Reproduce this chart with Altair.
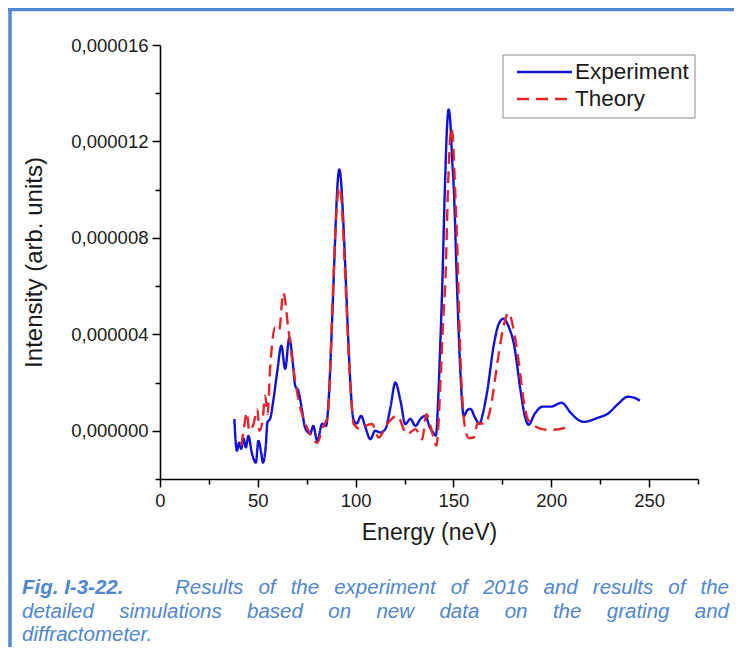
import altair as alt
import pandas as pd

# ---------------- data ----------------
exp_energy = [38.0, 39.3, 40.5, 41.5, 42.7, 43.9, 45.2, 46.9, 49.0, 50.3, 51.7, 52.6, 54.1, 54.9,
              56.3, 58.0, 60.0, 62.0, 64.0, 66.1, 67.8, 69.1, 70.7, 72.5, 74.2, 76.8, 78.3, 80.4,
              82.9, 84.9, 86.0, 87.0, 88.0, 89.0, 90.0, 91.0, 91.7, 92.5, 93.5, 94.5, 95.5, 96.5,
              97.5, 98.8, 100.5, 102.8, 105.0, 107.5, 110.0, 112.6, 115.2, 117.8, 120.3, 122.9,
              125.4, 128.0, 130.6, 133.1, 135.7, 137.9, 139.6, 141.0, 142.3, 143.0, 144.2, 145.6,
              146.6, 147.5, 148.4, 149.3, 150.2, 151.9, 153.5, 155.3, 157.0, 158.7, 161.0, 163.3,
              165.0, 167.3, 170.7, 173.0, 175.6, 178.3, 180.9, 184.3, 186.5, 188.4, 191.5, 195.6,
              199.7, 205.3, 209.9, 213.0, 216.6, 223.8, 228.9, 234.0, 239.1, 242.0, 245.3]
# intensity in units of 1e-6 (arb. units)
exp_intensity = [0.49, -0.83, -0.49, -0.75, -0.33, -0.69, -0.21, -0.9, -1.32, -0.42, -0.9, -1.32,
                 -0.6, 0.35, 0.5, 1.3, 2.5, 3.53, 2.57, 3.86, 2.9, 1.87, 1.66, 0.9, 0.12, -0.12,
                 0.2, -0.42, 0.29, 0.2, 1.0, 2.6, 4.6, 6.8, 9.0, 10.5, 10.84, 10.4, 9.0, 7.2, 5.2,
                 3.3, 1.7, 0.5, 0.3, 0.62, 0.14, -0.35, 0.0, -0.07, 0.07, 0.97, 2.0, 1.25, 0.28,
                 0.49, 0.2, 0.49, 0.62, 0.14, -0.07, -0.2, 1.5, 3.0, 5.8, 10.0, 12.4, 13.33, 12.8,
                 11.3, 10.0, 5.8, 2.5, 0.6, 0.85, 0.91, 0.55, 0.29, 0.7, 1.66, 3.6, 4.4, 4.65, 4.3,
                 3.6, 1.66, 0.6, 0.25, 0.7, 1.0, 1.0, 1.16, 0.75, 0.5, 0.37, 0.54, 0.71, 1.1, 1.41,
                 1.38, 1.25]

theory_energy = [41.5, 42.7, 44.4, 45.6, 47.8, 49.8, 50.8, 52.4, 53.8, 55.0, 56.3, 58.9, 60.9,
                 63.0, 65.5, 67.5, 69.1, 71.0, 73.2, 76.5, 80.4, 83.0, 85.5, 86.5, 87.9, 89.0,
                 90.0, 91.0, 91.7, 92.5, 93.5, 94.5, 95.6, 96.6, 97.8, 99.0, 102.4, 105.0, 108.4,
                 111.8, 116.1, 121.2, 126.3, 130.6, 134.0, 136.2, 139.1, 141.3, 142.5, 143.4,
                 144.7, 145.9, 147.3, 148.2, 149.0, 149.8, 150.7, 152.0, 153.0, 154.0, 155.2,
                 156.5, 157.9, 160.4, 162.3, 166.4, 169.0, 172.6, 175.5, 178.2, 180.5, 183.3,
                 185.8, 187.9, 190.0, 194.0, 198.2, 203.0, 208.4]
theory_intensity = [-0.62, 0.0, 0.76, 0.0, 0.28, 0.9, 0.0, 0.42, 1.45, 0.69, 2.6, 4.3, 4.15, 5.73,
                    4.3, 3.0, 2.08, 1.2, 0.54, -0.1, -0.5, 0.1, 0.54, 1.5, 4.7, 7.0, 8.8, 9.9,
                    10.1, 9.8, 8.5, 6.7, 4.7, 2.9, 1.3, 0.28, 0.07, 0.2, 0.28, -0.28, 0.28, 0.62,
                    -0.14, 0.07, -0.35, 0.69, -0.07, -0.62, 0.5, 2.08, 4.5, 6.3, 10.3, 12.0, 12.55,
                    12.0, 10.3, 7.5, 4.5, 2.2, 0.6, -0.1, -0.3, -0.28, 0.3, 0.3, 0.96, 2.9, 4.3,
                    4.9, 4.3, 2.9, 1.3, 0.5, 0.3, 0.1, 0.04, 0.05, 0.17]

series_names = ["Experiment", "Theory"]
x_ticks = list(range(0, 276, 25))
y_ticks = list(range(-2, 17, 2))

caption_label = "Fig. I-3-22."
caption_line1 = ["Results", "of", "the", "experiment", "of", "2016", "and", "results", "of", "the"]
caption_line2 = ["detailed", "simulations", "based", "on", "new", "data", "on", "the", "grating", "and"]
caption_line3 = "diffractometer."

# ---------------- style ----------------
BLUE = "#1111D6"
RED = "#E4262B"
CAP = "#4F86CC"
FONT = "Liberation Sans"
TXT = "#1a1a1a"
W, H = 538, 434          # plot area
OX, OY = 160, 45         # page position of plot origin

df = pd.concat([
    pd.DataFrame({"energy": exp_energy, "intensity": exp_intensity, "series": series_names[0]}),
    pd.DataFrame({"energy": theory_energy, "intensity": theory_intensity, "series": series_names[1]}),
], ignore_index=True)

x_axis = alt.Axis(
    values=x_ticks, grid=False,
    labelExpr="datum.value % 50 == 0 ? datum.label : ''",
    tickSize={"condition": {"test": "datum.value % 50 == 0", "value": 8}, "value": 5},
    domainColor="black", domainWidth=1.6, tickColor="black", tickWidth=1.5,
    labelFont=FONT, labelFontSize=18.5, labelColor=TXT, labelPadding=4,
    labelFlush=False, labelOverlap=False,
    title="Energy (neV)", titleFont=FONT, titleFontSize=23, titleFontWeight="normal",
    titleColor=TXT, titlePadding=12,
)
y_axis = alt.Axis(
    values=y_ticks, grid=False,
    labelExpr="datum.value % 4 == 0 ? replace(format(datum.value * 1e-6, '.6f'), '.', ',') : ''",
    tickSize={"condition": {"test": "datum.value % 4 == 0", "value": 8}, "value": 5},
    domainColor="black", domainWidth=1.6, tickColor="black", tickWidth=1.5,
    labelFont=FONT, labelFontSize=18.5, labelColor=TXT, labelPadding=4,
    labelFlush=False, labelOverlap=False,
    title="Intensity (arb. units)", titleFont=FONT, titleFontSize=24, titleFontWeight="normal",
    titleColor=TXT, titlePadding=24,
)

lines = alt.Chart(df).mark_line(strokeWidth=2.4, interpolate="monotone").encode(
    x=alt.X("energy:Q", scale=alt.Scale(domain=[0, 275], nice=False, zero=False), axis=x_axis),
    y=alt.Y("intensity:Q", scale=alt.Scale(domain=[-2, 16], nice=False, zero=False), axis=y_axis),
    color=alt.Color("series:N", scale=alt.Scale(domain=series_names, range=[BLUE, RED]), legend=None),
    strokeDash=alt.StrokeDash("series:N", scale=alt.Scale(domain=series_names, range=[[1, 0], [12, 7]]),
                              legend=None),
)

one = pd.DataFrame({"k": [0]})
layers = [lines]

# ---- legend box ----
layers.append(alt.Chart(one).mark_rect(fill="white", stroke="#8c8c8c", strokeWidth=1).encode(
    x=alt.value(503 - OX), x2=alt.value(695 - OX), y=alt.value(55 - OY), y2=alt.value(118 - OY)))
layers.append(alt.Chart(one).mark_rule(color=BLUE, strokeWidth=2.4).encode(
    x=alt.value(517 - OX), x2=alt.value(572 - OX), y=alt.value(72 - OY)))
layers.append(alt.Chart(one).mark_rule(color=RED, strokeWidth=2.4, strokeDash=[12, 7]).encode(
    x=alt.value(517 - OX), x2=alt.value(572 - OX), y=alt.value(99 - OY)))
for name, yy in zip(series_names, [72, 99]):
    layers.append(alt.Chart(one).mark_text(align="left", baseline="middle", font=FONT, fontSize=22.5,
                                           color=TXT, text=name).encode(
        x=alt.value(575 - OX), y=alt.value(yy - OY)))

# ---- frame lines (blue border) ----
layers.append(alt.Chart(one).mark_rule(color="#5288D0", strokeWidth=3.5).encode(
    x=alt.value(-150), y=alt.value(-37), y2=alt.value(620)))
layers.append(alt.Chart(one).mark_rule(color="#5288D0", strokeWidth=3.5).encode(
    x=alt.value(-152), x2=alt.value(580), y=alt.value(-35.5)))

# ---- caption (justified, Arial metrics) ----
AW = {c: 556 for c in "abdeghnopqu0123456789"}
AW.update({"c": 500, "f": 278, "i": 222, "j": 222, "k": 500, "l": 222, "m": 833, "r": 333,
           "s": 500, "t": 278, "v": 500, "w": 722, "x": 500, "y": 500, "z": 500, ".": 278,
           "-": 333, " ": 278, "F": 611, "I": 278, "R": 722})
CFS = 20.5


def wlen(s, fs=CFS):
    return sum(AW.get(ch, 556) for ch in s) * fs / 1000.0


def justify(words, x0, x1):
    total = sum(wlen(w) for w in words)
    gap = (x1 - x0 - total) / (len(words) - 1)
    xs, x = [], x0
    for w in words:
        xs.append(x)
        x += wlen(w) + gap
    return xs


def cap_text(txt, x, y, bold=False):
    return alt.Chart(one).mark_text(align="left", baseline="middle", font=FONT, fontSize=CFS,
                                    fontStyle="italic", fontWeight="bold" if bold else "normal",
                                    color=CAP, text=txt).encode(x=alt.value(x - OX), y=alt.value(y - OY))


layers.append(cap_text(caption_label, 22, 588, bold=True))
for w, xx in zip(caption_line1, justify(caption_line1, 175, 729)):
    layers.append(cap_text(w, xx, 588))
for w, xx in zip(caption_line2, justify(caption_line2, 22, 729)):
    layers.append(cap_text(w, xx, 612))
layers.append(cap_text(caption_line3, 22, 635))

chart = alt.layer(*layers).properties(
    width=W, height=H,
    padding={"left": OX - 8, "top": OY - 8, "right": 734 - (OX + W), "bottom": 168},
    autosize=alt.AutoSizeParams(type="none"),
    background="white",
).configure_view(stroke=None)

chart.save("out.html", embed_options={"renderer": "svg", "actions": False})
